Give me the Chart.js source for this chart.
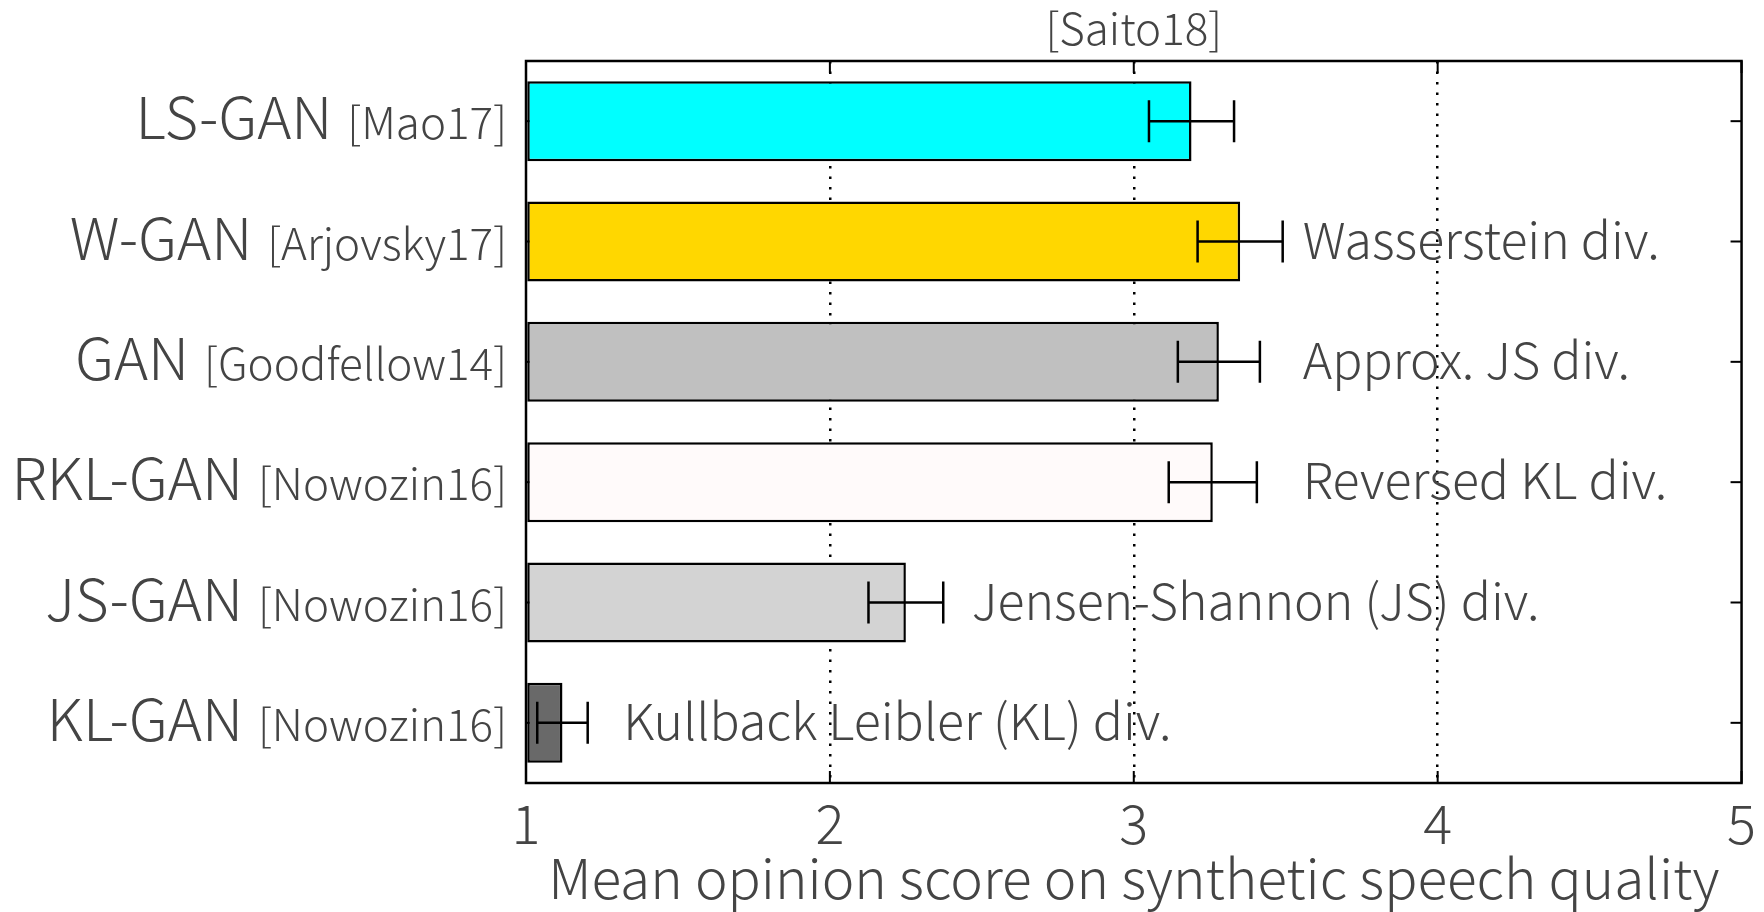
<!DOCTYPE html>
<html>
<head>
<meta charset="utf-8">
<script src="https://cdn.jsdelivr.net/npm/chart.js@4.4.1/dist/chart.umd.min.js"></script>
<style>
  html, body { margin: 0; padding: 0; background: #fff; }
  #chart { display: block; }
</style>
</head>
<body>
<canvas id="chart" width="1764" height="912"></canvas>
<script>
const names = ["LS-GAN", "W-GAN", "GAN", "RKL-GAN", "JS-GAN", "KL-GAN"];
const refs = ["[Mao17]", "[Arjovsky17]", "[Goodfellow14]", "[Nowozin16]", "[Nowozin16]", "[Nowozin16]"];
const scores = [3.19, 3.35, 3.28, 3.26, 2.25, 1.12];
const errors = [0.14, 0.14, 0.135, 0.145, 0.123, 0.083];
const notes = ["", "Wasserstein div.", "Approx. JS div.", "Reversed KL div.", "Jensen-Shannon (JS) div.", "Kullback Leibler (KL) div."];
const noteX = [null, 3.556, 3.556, 3.556, 2.467, 1.32];
const colors = ["#00FFFF", "#FFD700", "#C0C0C0", "#FFFAFA", "#D3D3D3", "#696969"];
const xTicks = [1, 2, 3, 4, 5];
const topTitle = "[Saito18]";
const xTitle = "Mean opinion score on synthetic speech quality";

const FONT = '"Noto Sans CJK JP", "Noto Sans", sans-serif';
const TEXT = "#444444";

const overlay = {
  id: "overlay",
  beforeDatasetsDraw(chart) {
    const { ctx, scales: { x, y } } = chart;
    ctx.save();
    ctx.strokeStyle = "#000";
    ctx.lineWidth = 2;
    // left inner ticks, hidden under the bars
    names.forEach((_, i) => {
      const py = y.getPixelForValue(i);
      ctx.beginPath();
      ctx.moveTo(x.left, py);
      ctx.lineTo(x.left + 11, py);
      ctx.stroke();
    });
    ctx.restore();
  },
  afterDatasetsDraw(chart) {
    const { ctx, scales: { x, y } } = chart;
    ctx.save();
    // error bars
    ctx.strokeStyle = "#000";
    ctx.lineWidth = 2.5;
    scores.forEach((v, i) => {
      const py = y.getPixelForValue(i);
      const x0 = x.getPixelForValue(v - errors[i]);
      const x1 = x.getPixelForValue(v + errors[i]);
      ctx.beginPath();
      ctx.moveTo(x0, py); ctx.lineTo(x1, py);
      ctx.moveTo(x0, py - 21); ctx.lineTo(x0, py + 21);
      ctx.moveTo(x1, py - 21); ctx.lineTo(x1, py + 21);
      ctx.stroke();
    });
    // divergence notes
    ctx.fillStyle = TEXT;
    ctx.font = `300 50px ${FONT}`;
    ctx.textAlign = "left";
    ctx.textBaseline = "alphabetic";
    notes.forEach((t, i) => {
      if (!t) return;
      ctx.fillText(t, x.getPixelForValue(noteX[i]), y.getPixelForValue(i) + 17);
    });
    ctx.restore();
  },
  afterDraw(chart) {
    const { ctx, chartArea: a, scales: { x, y } } = chart;
    ctx.save();
    ctx.strokeStyle = "#000";
    ctx.lineWidth = 2;
    xTicks.forEach(v => {
      const px = x.getPixelForValue(v);
      ctx.beginPath();
      ctx.moveTo(px, a.top); ctx.lineTo(px, a.top + 12);
      ctx.moveTo(px, a.bottom); ctx.lineTo(px, a.bottom - 12);
      ctx.stroke();
    });
    names.forEach((_, i) => {
      const py = y.getPixelForValue(i);
      ctx.beginPath();
      ctx.moveTo(a.right, py); ctx.lineTo(a.right - 11, py);
      ctx.stroke();
    });
    ctx.lineWidth = 2.5;
    ctx.strokeRect(a.left, a.top, a.right - a.left, a.bottom - a.top);

    // category labels: name + reference in smaller type
    ctx.fillStyle = TEXT;
    ctx.textAlign = "right";
    ctx.textBaseline = "alphabetic";
    names.forEach((n, i) => {
      const py = y.getPixelForValue(i) + 18;
      const rx = a.left - 19;
      ctx.font = `300 44px ${FONT}`;
      ctx.fillText(refs[i], rx, py);
      const w = ctx.measureText(refs[i]).width;
      ctx.font = `300 58px ${FONT}`;
      ctx.fillText(n, rx - w - 15, py);
    });

    ctx.font = `300 44px ${FONT}`;
    ctx.textAlign = "center";
    ctx.fillText(topTitle, (a.left + a.right) / 2, 45);
    ctx.restore();
  }
};

new Chart(document.getElementById("chart"), {
  type: "bar",
  data: {
    labels: names,
    datasets: [{
      data: scores,
      base: 1,
      backgroundColor: colors,
      borderColor: "#000",
      borderWidth: 2.5,
      borderSkipped: false,
      barPercentage: 0.665,
      categoryPercentage: 1
    }]
  },
  options: {
    indexAxis: "y",
    responsive: false,
    animation: false,
    layout: { padding: { top: 61, right: 22, left: 0, bottom: 0 } },
    plugins: {
      legend: { display: false },
      tooltip: { enabled: false },
      title: { display: false }
    },
    scales: {
      x: {
        min: 1,
        max: 5,
        afterFit: s => { s.height = 129; },
        afterBuildTicks: s => { s.ticks = xTicks.map(v => ({ value: v })); },
        border: { display: false, dash: [2.5, 8] },
        grid: {
          drawTicks: false,
          lineWidth: 2.5,
          color: c => (c.tick && (c.tick.value === 1 || c.tick.value === 5)) ? "rgba(0,0,0,0)" : "#000"
        },
        ticks: {
          color: TEXT,
          padding: 8,
          font: { family: FONT, size: 54, weight: 300 },
          maxRotation: 0
        },
        title: {
          display: true,
          text: xTitle,
          color: TEXT,
          font: { family: FONT, size: 55, weight: 300, lineHeight: 1.0 },
          padding: { top: 0, bottom: 6 }
        }
      },
      y: {
        afterFit: s => { s.width = 526; },
        border: { display: false },
        grid: { display: false, drawTicks: false },
        ticks: { display: false }
      }
    }
  },
  plugins: [overlay]
});
</script>
</body>
</html>
